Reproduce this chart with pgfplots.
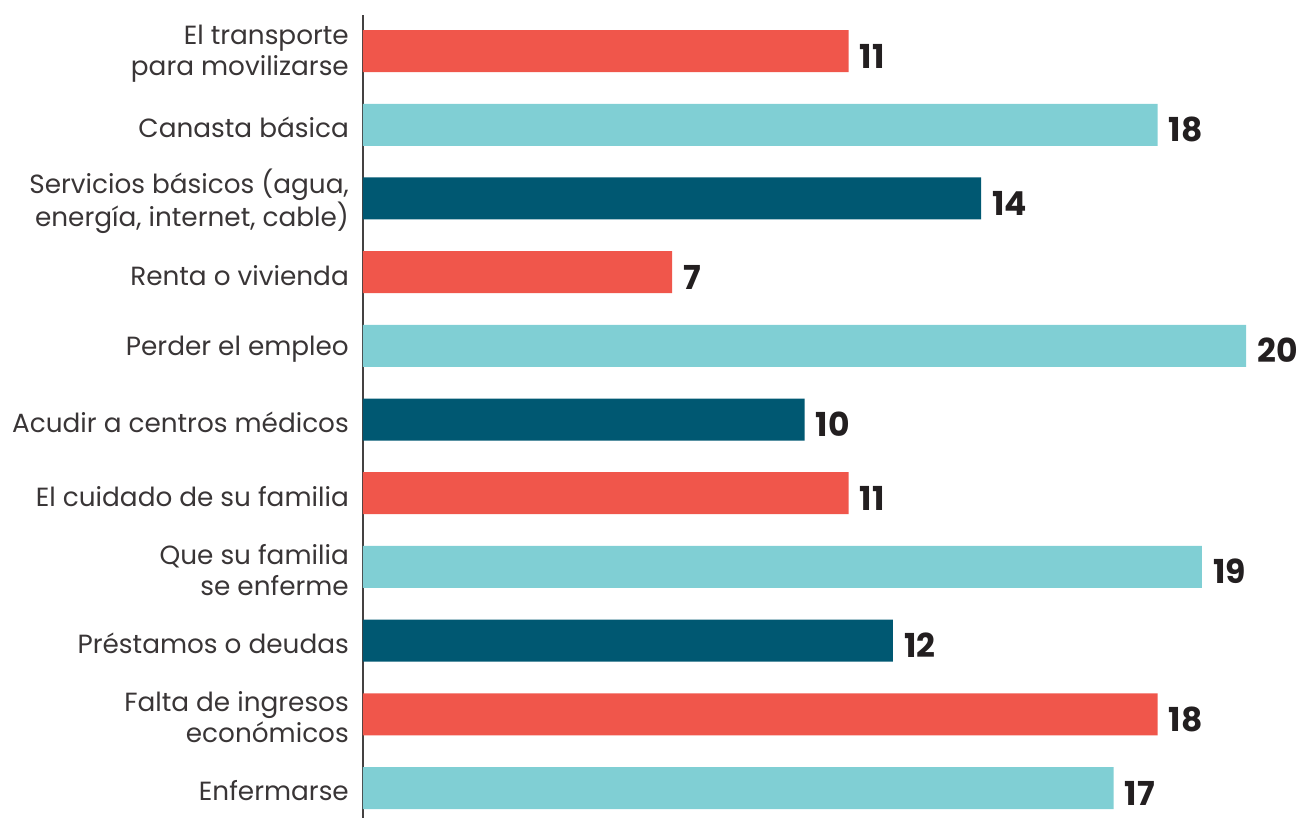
\documentclass[border=0pt]{standalone}
\usepackage{fontspec}
\setmainfont{Poppins}
\usepackage{pgfplots}
\pgfplotsset{compat=1.18}
\definecolor{rojo}{RGB}{240,86,75}
\definecolor{celeste}{RGB}{128,207,212}
\definecolor{petroleo}{RGB}{0,88,114}
\definecolor{texto}{RGB}{35,31,32}
\begin{document}
\begin{tikzpicture}
\begin{axis}[
  name=a, at={(0,0)}, anchor=south west,
  width=940pt, height=803pt, scale only axis,
  xbar, bar width=42pt, bar shift=0pt,
  xmin=0, xmax=21.29, ymin=-0.407, ymax=10.49,
  axis x line=none, axis y line*=left,
  axis line style={draw=texto!85, line width=1.3pt},
  ytick={0,...,10},
  yticklabels={Enfermarse,
    {Falta de ingresos\\económicos},
    Préstamos o deudas,
    {Que su familia\\se enferme},
    El cuidado de su familia,
    Acudir a centros médicos,
    Perder el empleo,
    Renta o vivienda,
    {Servicios básicos (agua,\\energía, internet, cable)},
    Canasta básica,
    {El transporte\\para movilizarse}},
  major tick length=0pt, ytick style={draw=none},
  yticklabel style={align=right, anchor=east, inner sep=0pt, xshift=-14pt,
    yshift=-3pt, font=\fontsize{26.3}{31}\selectfont, text=texto!90},
  clip=false,
  /pgf/number format/assume math mode=true,
  nodes near coords, point meta=x,
  nodes near coords style={font=\fontsize{33}{36}\selectfont\bfseries,
    text=texto, anchor=base west, inner sep=0pt, xshift=11pt, yshift=-17pt},
  every axis plot/.append style={draw=none},
]
\addplot[fill=rojo] coordinates {(11,10) (7,7) (11,4) (18,1)};
\addplot[fill=celeste] coordinates {(18,9) (20,6) (19,3) (17,0)};
\addplot[fill=petroleo] coordinates {(14,8) (10,5) (12,2)};
\end{axis}
\pgfresetboundingbox
\path (a.south west) ++(-363pt,0pt) rectangle ++(1303pt,818pt);
\end{tikzpicture}
\end{document}
